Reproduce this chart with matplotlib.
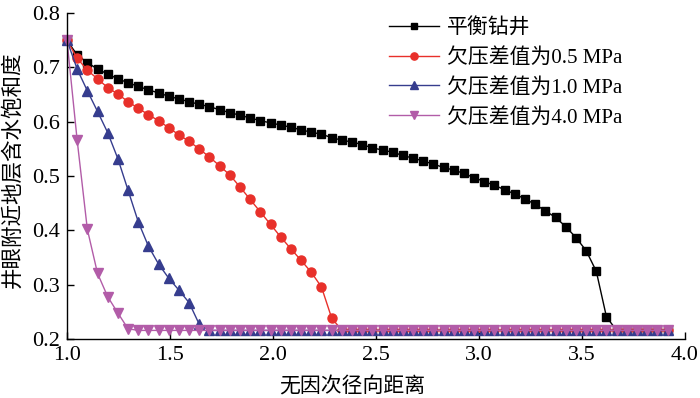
import numpy as np
import matplotlib
matplotlib.use("Agg")
import matplotlib.pyplot as plt

plt.rcParams['font.family'] = ['Liberation Serif', 'Noto Sans CJK SC', 'DejaVu Sans']
plt.rcParams['axes.unicode_minus'] = False

# dimensionless radial distance (sampling grid, 60 points)
r = np.linspace(1.0, 3.915, 60)

sw_balance = [0.750, 0.723, 0.709, 0.697, 0.688, 0.679, 0.672, 0.665, 0.659, 0.653,
              0.647, 0.642, 0.637, 0.632, 0.628, 0.622, 0.617, 0.612, 0.607, 0.602,
              0.598, 0.594, 0.590, 0.585, 0.581, 0.577, 0.571, 0.566, 0.563, 0.558,
              0.552, 0.548, 0.544, 0.538, 0.533, 0.528, 0.522, 0.516, 0.511, 0.505,
              0.497, 0.490, 0.483, 0.475, 0.467, 0.458, 0.448, 0.436, 0.424, 0.407,
              0.387, 0.363, 0.325, 0.241] + [0.216] * 6

sw_05 = [0.750, 0.717, 0.695, 0.679, 0.663, 0.651, 0.637, 0.625, 0.613, 0.602,
         0.589, 0.576, 0.564, 0.550, 0.535, 0.519, 0.502, 0.480, 0.457, 0.434,
         0.411, 0.388, 0.366, 0.345, 0.323, 0.296, 0.239] + [0.216] * 33

sw_10 = [0.750, 0.697, 0.657, 0.619, 0.580, 0.532, 0.474, 0.416, 0.371, 0.338,
         0.312, 0.290, 0.267, 0.227] + [0.216] * 46

sw_40 = [0.750, 0.566, 0.402, 0.321, 0.278, 0.248, 0.219] + [0.216] * 53

labels = ['平衡钻井', '欠压差值为0.5 MPa', '欠压差值为1.0 MPa', '欠压差值为4.0 MPa']
xticks = [1.0, 1.5, 2.0, 2.5, 3.0, 3.5, 4.0]
yticks = [0.2, 0.3, 0.4, 0.5, 0.6, 0.7, 0.8]

fig = plt.figure(figsize=(7.0, 3.98), dpi=100)
ax = fig.add_axes([0.0957, 0.148, 0.8829, 0.819])

ax.plot(r, sw_balance, color='black', marker='s', ms=5.5, lw=1.0, label=labels[0], clip_on=False)
ax.plot(r, sw_05, color='#e8302a', marker='o', ms=6.5, lw=1.0, label=labels[1], clip_on=False)
ax.plot(r, sw_10, color='#363d8e', marker='^', ms=7, lw=1.0, label=labels[2], clip_on=False)
ax.plot(r, sw_40, color='#b25ca8', marker='v', ms=7, lw=1.0, label=labels[3], clip_on=False)

ax.set_xlim(1.0, 4.0)
ax.set_ylim(0.2, 0.8)
ax.set_xticks(xticks)
ax.set_yticks(yticks)
ax.set_xticklabels([f'{v:.1f}' for v in xticks])
ax.set_yticklabels([f'{v:.1f}' for v in yticks])
ax.tick_params(direction='in', length=5, width=1, labelsize=16, pad=5)

for s in ['top', 'right']:
    ax.spines[s].set_visible(False)
for s in ['left', 'bottom']:
    ax.spines[s].set_linewidth(1.0)

ax.set_xlabel('无因次径向距离', fontsize=15)
ax.set_ylabel('井眼附近地层含水饱和度', fontsize=15.5)
ax.xaxis.set_label_coords(0.461, -0.116)
ax.yaxis.set_label_coords(-0.070, 0.518)

leg = ax.legend(loc='upper left', bbox_to_anchor=(0.521, 0.985), frameon=False, fontsize=15,
                numpoints=1, handlelength=2.4, handletextpad=0.4, labelspacing=0.48,
                borderpad=0, borderaxespad=0, markerscale=0.8)

fig.savefig('out.png', dpi=100)
